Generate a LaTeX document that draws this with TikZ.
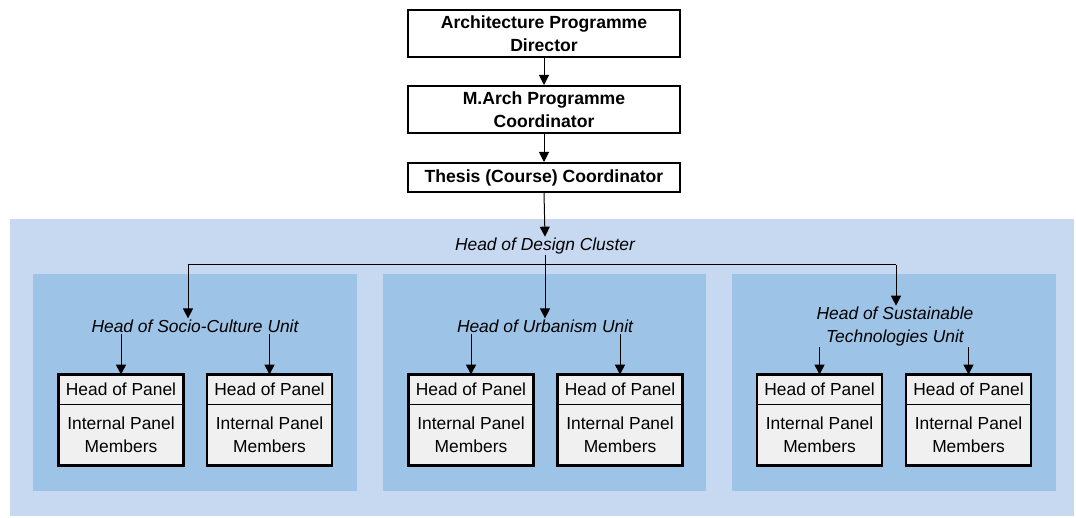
\documentclass[tikz,border=0pt]{standalone}
\usepackage{fontspec}
\setmainfont{Liberation Sans}
\usetikzlibrary{arrows.meta,positioning}
\definecolor{clusterblue}{HTML}{C6D9F1}
\definecolor{unitblue}{HTML}{9DC3E6}
\definecolor{panelgrey}{HTML}{F0F0F0}
\tikzset{
	role/.style={draw, line width=2pt, fill=white, minimum width=272pt, align=center, inner sep=0pt, font=\fontsize{17.6}{23}\selectfont\bfseries},
	unitlabel/.style={align=center, inner sep=1pt, font=\fontsize{17.4}{23}\selectfont\itshape},
	headrow/.style={draw, line width=0.8pt, fill=panelgrey, minimum width=124pt, minimum height=29pt, inner sep=0pt, font=\fontsize{17.4}{20}\selectfont},
	memberrow/.style={headrow, minimum height=60pt, align=center, font=\fontsize{17.4}{23}\selectfont},
	panelframe/.style={draw, line width=2.6pt},
	link/.style={line width=1pt, -{Triangle[width=10pt,length=10pt]}},
	tree/.style={line width=1pt}
}
\def\panelbox(#1)(#2){%
	\node[headrow] (#1-head) at (#2, 389.5) {Head of Panel};
	\node[memberrow, below=0pt of #1-head] (#1-members) {Internal Panel\\Members};
	\draw[panelframe] (#1-head.north west) rectangle (#1-members.south east);
}

\begin{document}
\begin{tikzpicture}[x=1pt, y=-1pt]
		%%%%% START %%%%%
		\useasboundingbox (0, 0) rectangle (1076, 518);
		
		\fill[clusterblue] (10, 219) rectangle (1074, 516);
		\fill[unitblue] (33, 274) rectangle (357, 491);
		\fill[unitblue] (383, 274) rectangle (706, 491);
		\fill[unitblue] (732, 274) rectangle (1056, 491);
		
		\node[role, minimum height=47pt] (director) at (544, 33.5) {Architecture Programme\\Director};
		\node[role, minimum height=47pt] (march) at (544, 109.5) {M.Arch Programme\\Coordinator};
		\node[role, minimum height=29pt] (thesis) at (544, 177.5) {Thesis (Course) Coordinator};
		
		\draw[link] (director.south) -- (march.north);
		\draw[link] (march.south) -- (thesis.north);
		
		\node[unitlabel] (cluster) at (545, 246) {Head of Design Cluster};
		\draw[link] (thesis.south) -- (cluster.north);
		
		\coordinate (split) at (545, 265);
		\coordinate (leftend) at (188, 265);
		\coordinate (rightend) at (896, 265);
		\draw[tree] (cluster.south) -- (split);
		\draw[tree] (leftend) -- (rightend);
		
		\node[unitlabel] (socio) at (195, 326) {Head of Socio-Culture Unit};
		\node[unitlabel] (urban) at (545, 326) {Head of Urbanism Unit};
		\node[unitlabel] (sustain) at (895, 326.5) {Head of Sustainable\\Technologies Unit};
		
		\draw[link] (leftend) -- (leftend |- socio.north);
		\draw[link] (split) -- (urban.north);
		\draw[link] (rightend) -- (rightend |- sustain.north);
		
		\panelbox(socioa)(121)
		\panelbox(sociob)(269.5)
		\panelbox(urbana)(471)
		\panelbox(urbanb)(620)
		\panelbox(sustaina)(819.5)
		\panelbox(sustainb)(968.5)
		
		\draw[link] (socio.south -| socioa-head.north) -- (socioa-head.north);
		\draw[link] (socio.south -| sociob-head.north) -- (sociob-head.north);
		\draw[link] (urban.south -| urbana-head.north) -- (urbana-head.north);
		\draw[link] (urban.south -| urbanb-head.north) -- (urbanb-head.north);
		\draw[link] (sustain.south -| sustaina-head.north) -- (sustaina-head.north);
		\draw[link] (sustain.south -| sustainb-head.north) -- (sustainb-head.north);
		
		%%%%% END %%%%%
\end{tikzpicture}
\end{document}
